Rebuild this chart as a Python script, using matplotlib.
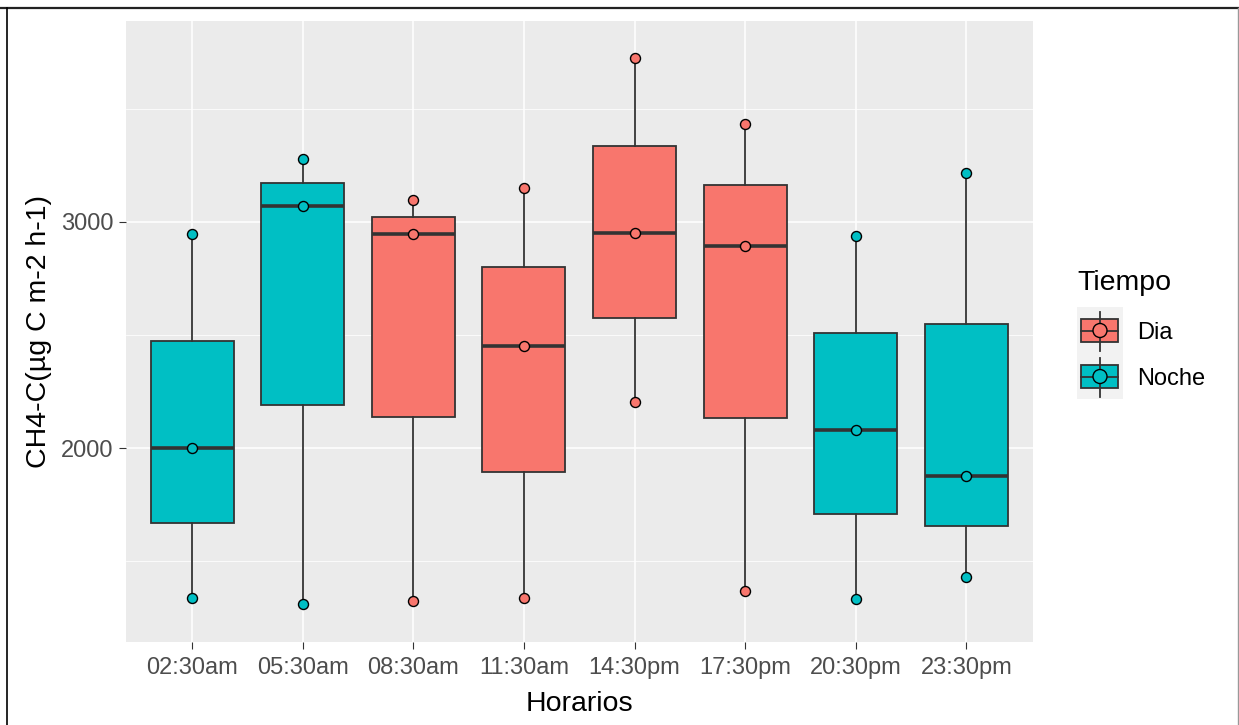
import matplotlib
matplotlib.use("Agg")
import matplotlib.pyplot as plt
from matplotlib.patches import Rectangle, Ellipse
import numpy as np

plt.rcParams['font.family'] = ['Liberation Sans', 'DejaVu Sans']

# datos de flujo por horario (µg C m-2 h-1)
horarios = ["02:30am", "05:30am", "08:30am", "11:30am",
            "14:30pm", "17:30pm", "20:30pm", "23:30pm"]
tiempo = ["Noche", "Noche", "Dia", "Dia", "Dia", "Dia", "Noche", "Noche"]
valores = [
    [1336, 2000, 2946],
    [1309, 3071, 3276],
    [1325, 2946, 3097],
    [1336, 2451, 3149],
    [2202, 2949, 3723],
    [1369, 2894, 3432],
    [1334, 2080, 2937],
    [1431, 1876, 3218],
]
colores = {"Dia": "#F8766D", "Noche": "#00BFC4"}

W, H = 1239, 725
fig = plt.figure(figsize=(W / 100, H / 100), dpi=100)
ax = fig.add_axes([125.7 / W, 1 - 641.7 / H, (1032.7 - 125.7) / W, (641.7 - 20.7) / H])
ax.set_facecolor("#EBEBEB")

pos = np.arange(1, len(horarios) + 1)
bp = ax.boxplot(valores, positions=pos, widths=0.75, patch_artist=True,
                showcaps=False, showfliers=False, zorder=3,
                boxprops=dict(edgecolor="#333333", linewidth=1.3),
                whiskerprops=dict(color="#333333", linewidth=1.3),
                medianprops=dict(color="#333333", linewidth=2.6))
for caja, t in zip(bp["boxes"], tiempo):
    caja.set_facecolor(colores[t])

for x, vals, t in zip(pos, valores, tiempo):
    ax.scatter([x] * len(vals), vals, s=52, facecolor=colores[t],
               edgecolor="black", linewidth=1.0, zorder=4)

ax.set_xlim(0.4, len(horarios) + 0.6)
ax.set_ylim(1144, 3889)
ax.set_xticks(pos)
ax.set_xticklabels(horarios)
ax.set_yticks([2000, 3000])
ax.set_yticks([1500, 2500, 3500], minor=True)
ax.grid(which="major", color="white", linewidth=1.1, zorder=0)
ax.grid(which="minor", axis="y", color="white", linewidth=0.55, zorder=0)
ax.set_axisbelow(True)
for s in ax.spines.values():
    s.set_visible(False)
ax.tick_params(which="major", length=5, width=0.8, color="#333333",
               labelcolor="#4D4D4D", labelsize=17, pad=4)
ax.tick_params(axis="x", which="major", pad=6)
ax.tick_params(which="minor", length=0)
ax.set_xlabel("Horarios", fontsize=20.5, color="black", labelpad=9)
ax.set_ylabel("CH4-C(µg C m-2 h-1)", fontsize=20.5, color="black", labelpad=6)

# capa superior: marco y leyenda en pixeles
top = fig.add_axes([0, 0, 1, 1], facecolor="none")
top.set_xlim(0, W)
top.set_ylim(H, 0)
top.axis("off")
top.plot([0, W], [7.5, 7.5], color="#222222", linewidth=1.6)
top.plot([7, 7], [7.5, H], color="black", linewidth=1.2)
top.plot([1238, 1238], [7.5, H], color="#999999", linewidth=1.0)

top.text(1077, 283, "Tiempo", fontsize=20.5, ha="left", va="center")
top.add_patch(Rectangle((1077, 307), 46, 92, facecolor="#F2F2F2", edgecolor="none"))
for i, t in enumerate(["Dia", "Noche"]):
    cy = 330.5 + 46 * i
    top.plot([1100, 1100], [cy - 19, cy + 20], color="#333333", linewidth=1.3)
    top.add_patch(Rectangle((1081, cy - 11.5), 37, 23, facecolor=colores[t],
                            edgecolor="#333333", linewidth=1.3))
    top.plot([1081, 1118], [cy, cy], color="#333333", linewidth=1.3)
    top.add_patch(Ellipse((1100, cy), 14, 14, facecolor=colores[t],
                          edgecolor="black", linewidth=1.0, zorder=5))
    top.text(1137, cy + 2, t, fontsize=17, ha="left", va="center")

fig.savefig("out.png", dpi=100)
